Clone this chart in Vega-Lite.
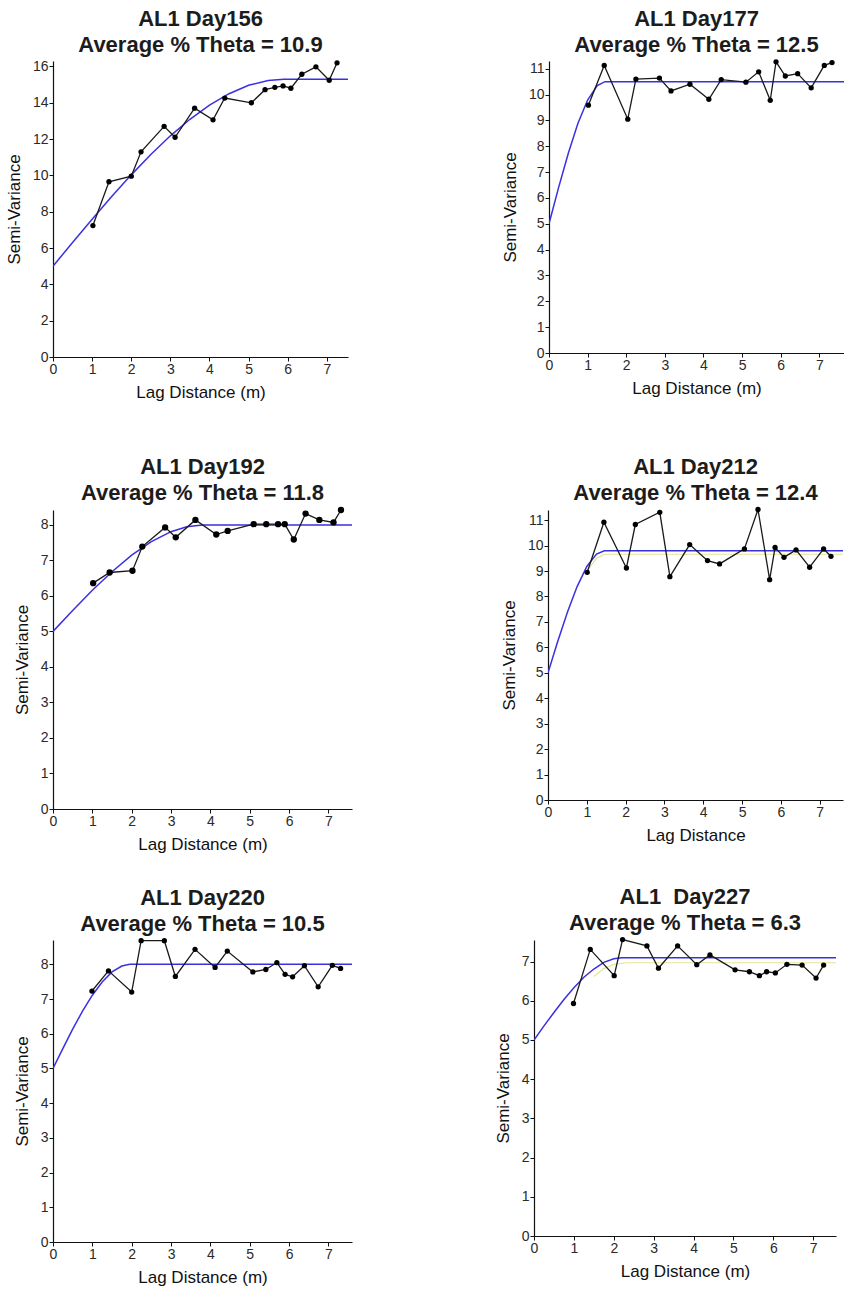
{
  "$schema": "https://vega.github.io/schema/vega-lite/v6.json",
  "background": "white",
  "autosize": {"type": "pad"},
  "padding": {"left": 5, "top": 8, "right": 0, "bottom": 6},
  "config": {
    "font": "Liberation Sans",
    "view": {"stroke": null},
    "axis": {
      "grid": false,
      "domainColor": "#111111",
      "domainWidth": 1.2,
      "tickColor": "#111111",
      "tickSize": 4,
      "tickWidth": 1,
      "labelFont": "Liberation Sans",
      "labelFontSize": 14,
      "labelColor": "#2a2a2a",
      "labelPadding": 1,
      "labelFlush": false,
      "labelOverlap": false,
      "titleFont": "Liberation Sans",
      "titleFontSize": 17,
      "titleFontWeight": "normal",
      "titleColor": "#111111"
    },
    "axisX": {"titlePadding": 8},
    "axisY": {"titlePadding": 9},
    "title": {
      "font": "Liberation Sans",
      "fontSize": 22,
      "fontWeight": "bold",
      "lineHeight": 26,
      "offset": 2,
      "anchor": "middle",
      "color": "#1c1c1c"
    }
  },
  "datasets": {
    "obs": [
      {"panel": "Day156", "lag": 1.02, "gamma": 7.24},
      {"panel": "Day156", "lag": 1.43, "gamma": 9.65},
      {"panel": "Day156", "lag": 2.0, "gamma": 9.96},
      {"panel": "Day156", "lag": 2.25, "gamma": 11.3},
      {"panel": "Day156", "lag": 2.84, "gamma": 12.7},
      {"panel": "Day156", "lag": 3.12, "gamma": 12.1},
      {"panel": "Day156", "lag": 3.62, "gamma": 13.7},
      {"panel": "Day156", "lag": 4.09, "gamma": 13.06},
      {"panel": "Day156", "lag": 4.39, "gamma": 14.26},
      {"panel": "Day156", "lag": 5.07, "gamma": 14.0},
      {"panel": "Day156", "lag": 5.42, "gamma": 14.72},
      {"panel": "Day156", "lag": 5.67, "gamma": 14.85},
      {"panel": "Day156", "lag": 5.88, "gamma": 14.93},
      {"panel": "Day156", "lag": 6.08, "gamma": 14.8},
      {"panel": "Day156", "lag": 6.36, "gamma": 15.57},
      {"panel": "Day156", "lag": 6.72, "gamma": 15.98},
      {"panel": "Day156", "lag": 7.06, "gamma": 15.24},
      {"panel": "Day156", "lag": 7.26, "gamma": 16.2},
      {"panel": "Day177", "lag": 1.02, "gamma": 9.59},
      {"panel": "Day177", "lag": 1.43, "gamma": 11.13},
      {"panel": "Day177", "lag": 2.04, "gamma": 9.05},
      {"panel": "Day177", "lag": 2.25, "gamma": 10.6},
      {"panel": "Day177", "lag": 2.86, "gamma": 10.64},
      {"panel": "Day177", "lag": 3.16, "gamma": 10.14},
      {"panel": "Day177", "lag": 3.65, "gamma": 10.4},
      {"panel": "Day177", "lag": 4.14, "gamma": 9.82},
      {"panel": "Day177", "lag": 4.46, "gamma": 10.58},
      {"panel": "Day177", "lag": 5.1, "gamma": 10.48},
      {"panel": "Day177", "lag": 5.43, "gamma": 10.88},
      {"panel": "Day177", "lag": 5.73, "gamma": 9.78},
      {"panel": "Day177", "lag": 5.88, "gamma": 11.27},
      {"panel": "Day177", "lag": 6.12, "gamma": 10.72},
      {"panel": "Day177", "lag": 6.44, "gamma": 10.81},
      {"panel": "Day177", "lag": 6.79, "gamma": 10.26},
      {"panel": "Day177", "lag": 7.13, "gamma": 11.13},
      {"panel": "Day177", "lag": 7.33, "gamma": 11.24},
      {"panel": "Day192", "lag": 1.02, "gamma": 6.36},
      {"panel": "Day192", "lag": 1.44, "gamma": 6.66},
      {"panel": "Day192", "lag": 2.02, "gamma": 6.71},
      {"panel": "Day192", "lag": 2.27, "gamma": 7.39},
      {"panel": "Day192", "lag": 2.85, "gamma": 7.93},
      {"panel": "Day192", "lag": 3.12, "gamma": 7.65},
      {"panel": "Day192", "lag": 3.62, "gamma": 8.14},
      {"panel": "Day192", "lag": 4.15, "gamma": 7.73},
      {"panel": "Day192", "lag": 4.44, "gamma": 7.83},
      {"panel": "Day192", "lag": 5.1, "gamma": 8.02},
      {"panel": "Day192", "lag": 5.42, "gamma": 8.02},
      {"panel": "Day192", "lag": 5.72, "gamma": 8.02},
      {"panel": "Day192", "lag": 5.89, "gamma": 8.02},
      {"panel": "Day192", "lag": 6.12, "gamma": 7.59},
      {"panel": "Day192", "lag": 6.42, "gamma": 8.32},
      {"panel": "Day192", "lag": 6.77, "gamma": 8.14},
      {"panel": "Day192", "lag": 7.13, "gamma": 8.07},
      {"panel": "Day192", "lag": 7.32, "gamma": 8.42},
      {"panel": "Day212", "lag": 1.01, "gamma": 8.95},
      {"panel": "Day212", "lag": 1.44, "gamma": 10.92},
      {"panel": "Day212", "lag": 2.02, "gamma": 9.12},
      {"panel": "Day212", "lag": 2.25, "gamma": 10.83},
      {"panel": "Day212", "lag": 2.88, "gamma": 11.31},
      {"panel": "Day212", "lag": 3.14, "gamma": 8.78},
      {"panel": "Day212", "lag": 3.65, "gamma": 10.04},
      {"panel": "Day212", "lag": 4.11, "gamma": 9.41},
      {"panel": "Day212", "lag": 4.42, "gamma": 9.28},
      {"panel": "Day212", "lag": 5.06, "gamma": 9.87},
      {"panel": "Day212", "lag": 5.41, "gamma": 11.42},
      {"panel": "Day212", "lag": 5.71, "gamma": 8.66},
      {"panel": "Day212", "lag": 5.85, "gamma": 9.93},
      {"panel": "Day212", "lag": 6.08, "gamma": 9.54},
      {"panel": "Day212", "lag": 6.39, "gamma": 9.83},
      {"panel": "Day212", "lag": 6.74, "gamma": 9.15},
      {"panel": "Day212", "lag": 7.1, "gamma": 9.87},
      {"panel": "Day212", "lag": 7.29, "gamma": 9.58},
      {"panel": "Day220", "lag": 0.99, "gamma": 7.23},
      {"panel": "Day220", "lag": 1.41, "gamma": 7.81},
      {"panel": "Day220", "lag": 2.0, "gamma": 7.2},
      {"panel": "Day220", "lag": 2.24, "gamma": 8.68},
      {"panel": "Day220", "lag": 2.83, "gamma": 8.68},
      {"panel": "Day220", "lag": 3.11, "gamma": 7.65},
      {"panel": "Day220", "lag": 3.61, "gamma": 8.43},
      {"panel": "Day220", "lag": 4.12, "gamma": 7.91},
      {"panel": "Day220", "lag": 4.43, "gamma": 8.38},
      {"panel": "Day220", "lag": 5.08, "gamma": 7.78},
      {"panel": "Day220", "lag": 5.41, "gamma": 7.85},
      {"panel": "Day220", "lag": 5.69, "gamma": 8.05},
      {"panel": "Day220", "lag": 5.9, "gamma": 7.71},
      {"panel": "Day220", "lag": 6.09, "gamma": 7.64},
      {"panel": "Day220", "lag": 6.39, "gamma": 7.96},
      {"panel": "Day220", "lag": 6.74, "gamma": 7.35},
      {"panel": "Day220", "lag": 7.1, "gamma": 7.97},
      {"panel": "Day220", "lag": 7.31, "gamma": 7.88},
      {"panel": "Day227", "lag": 0.99, "gamma": 5.93},
      {"panel": "Day227", "lag": 1.41, "gamma": 7.31},
      {"panel": "Day227", "lag": 2.01, "gamma": 6.64},
      {"panel": "Day227", "lag": 2.22, "gamma": 7.56},
      {"panel": "Day227", "lag": 2.83, "gamma": 7.4},
      {"panel": "Day227", "lag": 3.12, "gamma": 6.83},
      {"panel": "Day227", "lag": 3.6, "gamma": 7.4},
      {"panel": "Day227", "lag": 4.08, "gamma": 6.92},
      {"panel": "Day227", "lag": 4.41, "gamma": 7.17},
      {"panel": "Day227", "lag": 5.04, "gamma": 6.79},
      {"panel": "Day227", "lag": 5.4, "gamma": 6.74},
      {"panel": "Day227", "lag": 5.65, "gamma": 6.64},
      {"panel": "Day227", "lag": 5.83, "gamma": 6.74},
      {"panel": "Day227", "lag": 6.05, "gamma": 6.71},
      {"panel": "Day227", "lag": 6.34, "gamma": 6.93},
      {"panel": "Day227", "lag": 6.72, "gamma": 6.91},
      {"panel": "Day227", "lag": 7.07, "gamma": 6.58},
      {"panel": "Day227", "lag": 7.26, "gamma": 6.91}
    ],
    "model": [
      {"panel": "Day156", "lag": 0, "gamma": 5.0},
      {"panel": "Day156", "lag": 0.5, "gamma": 6.31},
      {"panel": "Day156", "lag": 1.0, "gamma": 7.59},
      {"panel": "Day156", "lag": 1.5, "gamma": 8.84},
      {"panel": "Day156", "lag": 2.0, "gamma": 10.03},
      {"panel": "Day156", "lag": 2.5, "gamma": 11.15},
      {"panel": "Day156", "lag": 3.0, "gamma": 12.18},
      {"panel": "Day156", "lag": 3.5, "gamma": 13.09},
      {"panel": "Day156", "lag": 4.0, "gamma": 13.87},
      {"panel": "Day156", "lag": 4.5, "gamma": 14.5},
      {"panel": "Day156", "lag": 5.0, "gamma": 14.96},
      {"panel": "Day156", "lag": 5.5, "gamma": 15.23},
      {"panel": "Day156", "lag": 5.9, "gamma": 15.3},
      {"panel": "Day156", "lag": 7.54, "gamma": 15.3},
      {"panel": "Day177", "lag": 0, "gamma": 5.0},
      {"panel": "Day177", "lag": 0.25, "gamma": 6.41},
      {"panel": "Day177", "lag": 0.5, "gamma": 7.73},
      {"panel": "Day177", "lag": 0.75, "gamma": 8.89},
      {"panel": "Day177", "lag": 1.0, "gamma": 9.79},
      {"panel": "Day177", "lag": 1.25, "gamma": 10.35},
      {"panel": "Day177", "lag": 1.45, "gamma": 10.5},
      {"panel": "Day177", "lag": 7.64, "gamma": 10.5},
      {"panel": "Day192", "lag": 0, "gamma": 5.0},
      {"panel": "Day192", "lag": 0.5, "gamma": 5.59},
      {"panel": "Day192", "lag": 1.0, "gamma": 6.16},
      {"panel": "Day192", "lag": 1.5, "gamma": 6.68},
      {"panel": "Day192", "lag": 2.0, "gamma": 7.15},
      {"panel": "Day192", "lag": 2.5, "gamma": 7.53},
      {"panel": "Day192", "lag": 3.0, "gamma": 7.81},
      {"panel": "Day192", "lag": 3.4, "gamma": 7.95},
      {"panel": "Day192", "lag": 3.8, "gamma": 8.0},
      {"panel": "Day192", "lag": 7.6, "gamma": 8.0},
      {"panel": "Day212", "lag": 0, "gamma": 5.0},
      {"panel": "Day212", "lag": 0.25, "gamma": 6.23},
      {"panel": "Day212", "lag": 0.5, "gamma": 7.38},
      {"panel": "Day212", "lag": 0.75, "gamma": 8.39},
      {"panel": "Day212", "lag": 1.0, "gamma": 9.18},
      {"panel": "Day212", "lag": 1.25, "gamma": 9.67},
      {"panel": "Day212", "lag": 1.45, "gamma": 9.8},
      {"panel": "Day212", "lag": 7.6, "gamma": 9.8},
      {"panel": "Day220", "lag": 0, "gamma": 5.0},
      {"panel": "Day220", "lag": 0.25, "gamma": 5.57},
      {"panel": "Day220", "lag": 0.5, "gamma": 6.13},
      {"panel": "Day220", "lag": 0.75, "gamma": 6.65},
      {"panel": "Day220", "lag": 1.0, "gamma": 7.11},
      {"panel": "Day220", "lag": 1.25, "gamma": 7.49},
      {"panel": "Day220", "lag": 1.5, "gamma": 7.78},
      {"panel": "Day220", "lag": 1.75, "gamma": 7.95},
      {"panel": "Day220", "lag": 1.95, "gamma": 8.0},
      {"panel": "Day220", "lag": 7.6, "gamma": 8.0},
      {"panel": "Day227", "lag": 0, "gamma": 5.0},
      {"panel": "Day227", "lag": 0.25, "gamma": 5.36},
      {"panel": "Day227", "lag": 0.5, "gamma": 5.7},
      {"panel": "Day227", "lag": 0.75, "gamma": 6.03},
      {"panel": "Day227", "lag": 1.0, "gamma": 6.33},
      {"panel": "Day227", "lag": 1.25, "gamma": 6.6},
      {"panel": "Day227", "lag": 1.5, "gamma": 6.81},
      {"panel": "Day227", "lag": 1.75, "gamma": 6.98},
      {"panel": "Day227", "lag": 2.0, "gamma": 7.07},
      {"panel": "Day227", "lag": 2.2, "gamma": 7.1},
      {"panel": "Day227", "lag": 7.57, "gamma": 7.1}
    ],
    "fit2": [
      {"panel": "Day212", "lag": 1.0, "gamma": 9.0},
      {"panel": "Day212", "lag": 1.25, "gamma": 9.5},
      {"panel": "Day212", "lag": 1.45, "gamma": 9.66},
      {"panel": "Day212", "lag": 7.6, "gamma": 9.66},
      {"panel": "Day227", "lag": 1.5, "gamma": 6.62},
      {"panel": "Day227", "lag": 1.75, "gamma": 6.82},
      {"panel": "Day227", "lag": 2.0, "gamma": 6.93},
      {"panel": "Day227", "lag": 2.3, "gamma": 6.97},
      {"panel": "Day227", "lag": 7.57, "gamma": 6.97}
    ]
  },
  "spacing": 55,
  "vconcat": [
    {
      "spacing": 153,
      "hconcat": [
        {
          "width": 295, "height": 296,
          "title": {"text": ["AL1 Day156", "Average % Theta = 10.9"]},
          "encoding": {
            "x": {"field": "lag", "type": "quantitative", "scale": {"domain": [0, 7.54], "nice": false, "zero": false}, "axis": {"title": "Lag Distance (m)", "values": [0, 1, 2, 3, 4, 5, 6, 7], "format": "d"}},
            "y": {"field": "gamma", "type": "quantitative", "scale": {"domain": [0, 16.3], "nice": false}, "axis": {"title": "Semi-Variance", "values": [0, 2, 4, 6, 8, 10, 12, 14, 16], "format": "d"}}
          },
          "layer": [
            {"data": {"name": "model"}, "transform": [{"filter": "datum.panel == 'Day156'"}], "mark": {"type": "line", "color": "#3b30e0", "strokeWidth": 1.5, "clip": true}},
            {"data": {"name": "obs"}, "transform": [{"filter": "datum.panel == 'Day156'"}], "mark": {"type": "line", "color": "#1a1a1a", "strokeWidth": 1.3, "point": {"filled": true, "size": 28, "fill": "#000000"}}}
          ]
        },
        {
          "width": 295, "height": 292,
          "title": {"text": ["AL1 Day177", "Average % Theta = 12.5"]},
          "encoding": {
            "x": {"field": "lag", "type": "quantitative", "scale": {"domain": [0, 7.64], "nice": false, "zero": false}, "axis": {"title": "Lag Distance (m)", "values": [0, 1, 2, 3, 4, 5, 6, 7], "format": "d"}},
            "y": {"field": "gamma", "type": "quantitative", "scale": {"domain": [0, 11.3], "nice": false}, "axis": {"title": "Semi-Variance", "values": [0, 1, 2, 3, 4, 5, 6, 7, 8, 9, 10, 11], "format": "d"}}
          },
          "layer": [
            {"data": {"name": "model"}, "transform": [{"filter": "datum.panel == 'Day177'"}], "mark": {"type": "line", "color": "#3b30e0", "strokeWidth": 1.5, "clip": true}},
            {"data": {"name": "obs"}, "transform": [{"filter": "datum.panel == 'Day177'"}], "mark": {"type": "line", "color": "#1a1a1a", "strokeWidth": 1.3, "point": {"filled": true, "size": 28, "fill": "#000000"}}}
          ]
        }
      ]
    },
    {
      "spacing": 33,
      "vconcat": [
        {
          "spacing": 148,
          "hconcat": [
            {
              "width": 299, "height": 299,
              "title": {"text": ["AL1 Day192", "Average % Theta = 11.8"]},
              "encoding": {
                "x": {"field": "lag", "type": "quantitative", "scale": {"domain": [0, 7.6], "nice": false, "zero": false}, "axis": {"title": "Lag Distance (m)", "values": [0, 1, 2, 3, 4, 5, 6, 7], "format": "d"}},
                "y": {"field": "gamma", "type": "quantitative", "scale": {"domain": [0, 8.42], "nice": false}, "axis": {"title": "Semi-Variance", "values": [0, 1, 2, 3, 4, 5, 6, 7, 8], "format": "d"}}
              },
              "layer": [
                {"data": {"name": "model"}, "transform": [{"filter": "datum.panel == 'Day192'"}], "mark": {"type": "line", "color": "#3b30e0", "strokeWidth": 1.5, "clip": true}},
                {"data": {"name": "obs"}, "transform": [{"filter": "datum.panel == 'Day192'"}], "mark": {"type": "line", "color": "#1a1a1a", "strokeWidth": 1.3, "point": {"filled": true, "size": 40, "fill": "#000000"}}}
              ]
            },
            {
              "width": 295, "height": 290,
              "title": {"text": ["AL1 Day212", "Average % Theta = 12.4"]},
              "encoding": {
                "x": {"field": "lag", "type": "quantitative", "scale": {"domain": [0, 7.6], "nice": false, "zero": false}, "axis": {"title": "Lag Distance", "values": [0, 1, 2, 3, 4, 5, 6, 7], "format": "d"}},
                "y": {"field": "gamma", "type": "quantitative", "scale": {"domain": [0, 11.4], "nice": false}, "axis": {"title": "Semi-Variance", "values": [0, 1, 2, 3, 4, 5, 6, 7, 8, 9, 10, 11], "format": "d"}}
              },
              "layer": [
                {"data": {"name": "fit2"}, "transform": [{"filter": "datum.panel == 'Day212'"}], "mark": {"type": "line", "color": "#e4e49a", "strokeWidth": 1.2, "clip": true}},
                {"data": {"name": "model"}, "transform": [{"filter": "datum.panel == 'Day212'"}], "mark": {"type": "line", "color": "#3b30e0", "strokeWidth": 1.5, "clip": true}},
                {"data": {"name": "obs"}, "transform": [{"filter": "datum.panel == 'Day212'"}], "mark": {"type": "line", "color": "#1a1a1a", "strokeWidth": 1.3, "point": {"filled": true, "size": 28, "fill": "#000000"}}}
              ]
            }
          ]
        },
        {
          "spacing": 142,
          "hconcat": [
            {
              "width": 299, "height": 302,
              "title": {"text": ["AL1 Day220", "Average % Theta = 10.5"]},
              "encoding": {
                "x": {"field": "lag", "type": "quantitative", "scale": {"domain": [0, 7.6], "nice": false, "zero": false}, "axis": {"title": "Lag Distance (m)", "values": [0, 1, 2, 3, 4, 5, 6, 7], "format": "d"}},
                "y": {"field": "gamma", "type": "quantitative", "scale": {"domain": [0, 8.7], "nice": false}, "axis": {"title": "Semi-Variance", "values": [0, 1, 2, 3, 4, 5, 6, 7, 8], "format": "d"}}
              },
              "layer": [
                {"data": {"name": "model"}, "transform": [{"filter": "datum.panel == 'Day220'"}], "mark": {"type": "line", "color": "#3b30e0", "strokeWidth": 1.5, "clip": true}},
                {"data": {"name": "obs"}, "transform": [{"filter": "datum.panel == 'Day220'"}], "mark": {"type": "line", "color": "#1a1a1a", "strokeWidth": 1.3, "point": {"filled": true, "size": 28, "fill": "#000000"}}}
              ]
            },
            {
              "width": 302, "height": 296,
              "title": {"text": ["AL1 \u00a0Day227", "Average % Theta = 6.3"]},
              "encoding": {
                "x": {"field": "lag", "type": "quantitative", "scale": {"domain": [0, 7.57], "nice": false, "zero": false}, "axis": {"title": "Lag Distance (m)", "values": [0, 1, 2, 3, 4, 5, 6, 7], "format": "d"}},
                "y": {"field": "gamma", "type": "quantitative", "scale": {"domain": [0, 7.55], "nice": false}, "axis": {"title": "Semi-Variance", "values": [0, 1, 2, 3, 4, 5, 6, 7], "format": "d"}}
              },
              "layer": [
                {"data": {"name": "fit2"}, "transform": [{"filter": "datum.panel == 'Day227'"}], "mark": {"type": "line", "color": "#e4e49a", "strokeWidth": 1.2, "clip": true}},
                {"data": {"name": "model"}, "transform": [{"filter": "datum.panel == 'Day227'"}], "mark": {"type": "line", "color": "#3b30e0", "strokeWidth": 1.5, "clip": true}},
                {"data": {"name": "obs"}, "transform": [{"filter": "datum.panel == 'Day227'"}], "mark": {"type": "line", "color": "#1a1a1a", "strokeWidth": 1.3, "point": {"filled": true, "size": 28, "fill": "#000000"}}}
              ]
            }
          ]
        }
      ]
    }
  ]
}
